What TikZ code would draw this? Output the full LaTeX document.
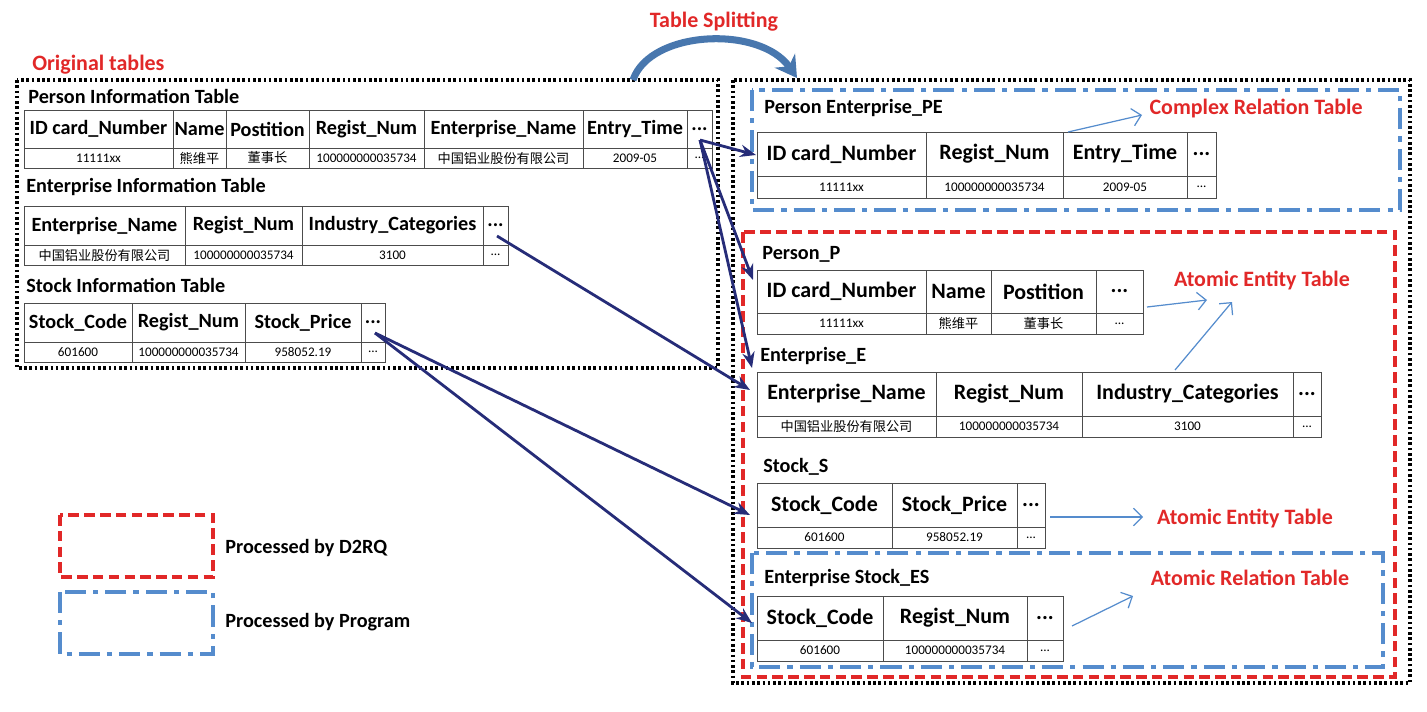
\documentclass[tikz,border=0pt]{standalone}
\usepackage{fontspec}
\setmainfont{Carlito}
\newfontfamily\cjk{Noto Sans CJK SC}
\usetikzlibrary{arrows.meta}
\definecolor{navy}{RGB}{38,44,120}
\definecolor{lblue}{RGB}{85,140,205}
\definecolor{myred}{RGB}{225,40,40}
\newcommand\dts{...}
\tikzset{
  cell/.style={draw=black!70, line width=0.5pt},
  hd/.style={font=\bfseries\fontsize{11.5}{12}\selectfont, inner sep=0pt},
  hdb/.style={font=\bfseries\fontsize{12.5}{13}\selectfont, inner sep=0pt},
  vl/.style={font=\fontsize{7.5}{8}\selectfont, inner sep=0pt},
  ttl/.style={font=\bfseries\fontsize{11.5}{12}\selectfont, anchor=west, inner sep=0pt},
  redlbl/.style={font=\bfseries\fontsize{12.5}{13}\selectfont, text=myred, inner sep=0pt},
  outer/.style={draw, line width=2pt, dash pattern=on 1.5pt off 1.5pt},
  d2rq/.style={draw=myred, line width=2pt, dash pattern=on 6pt off 3pt},
  prog/.style={draw=lblue, line width=2pt, dash pattern=on 12pt off 4pt on 3pt off 4pt},
  map/.style={draw=navy, line width=1.6pt, -{Stealth[length=9pt,width=7pt]}},
  note/.style={draw=lblue, line width=0.7pt, -{Straight Barb[length=5pt]}},
}
% #1 name, #2 top, #3 mid, #4 bottom, #5 header style, #6 cells x0/x1/head/value
\newcommand\mktable[6]{%
  \foreach \xa/\xb/\h/\v [count=\k] in {#6} {
    \draw[cell] (\xa,#2) rectangle (\xb,#4);
    \draw[cell] (\xa,#3) -- (\xb,#3);
    \node[#5] (#1h\k) at ({(\xa+\xb)/2},{(#2+#3)/2}) {\h};
    \node[vl] (#1v\k) at ({(\xa+\xb)/2},{(#3+#4)/2}) {\v};
  }}
\begin{document}
\begin{tikzpicture}[x=0.02cm, y=-0.02cm]
\useasboundingbox (0,0) rectangle (1427,711);

% outer boxes
\draw[outer] (17,80) rectangle (718,368);
\draw[outer] (733,80) rectangle (1410,683);
\draw[prog] (752,90) rectangle (1400,210);
\draw[d2rq] (743,232) rectangle (1395,677);
\draw[prog] (752,553) rectangle (1383,667);

\node[redlbl, anchor=west] (orig) at (32,65) {Original tables};
\node[redlbl] (split) at (714,22) {Table Splitting};
\coordinate (sa) at (633,80);
\coordinate (sb) at (797,78);
\draw[lblue!85!black, line width=4pt, -{Stealth[length=12pt,width=14pt]}]
  (sa) .. controls (650,30) and (760,25) .. (sb);

% original tables
\node[ttl] (pit) at (28,96) {Person Information Table};
\mktable{P}{110}{148}{168}{hd}{24/173/ID card\_Number/11111xx, 173/226/Name/{\cjk 熊维平}, 226/309/Postition/{\cjk 董事长}, 309/424/Regist\_Num/100000000035734, 424/583/Enterprise\_Name/{\cjk 中国铝业股份有限公司}, 583/687/Entry\_Time/2009-05, 687/712/\dts/\dts}
\node[ttl] (eit) at (26,187) {Enterprise Information Table};
\mktable{E}{206}{245}{265}{hd}{24/185/Enterprise\_Name/{\cjk 中国铝业股份有限公司}, 185/302/Regist\_Num/100000000035734, 302/483/Industry\_Categories/3100, 483/508/\dts/\dts}
\node[ttl] (sit) at (26,285) {Stock Information Table};
\mktable{S}{303}{342}{362}{hd}{24/132/Stock\_Code/601600, 132/245/Regist\_Num/100000000035734, 245/361/Stock\_Price/958052.19, 361/385/\dts/\dts}

% split tables
\node[ttl] (pet) at (764,108) {Person Enterprise\_PE};
\node[redlbl, anchor=east] (crt) at (1363,108) {Complex Relation Table};
\mktable{PE}{132}{176}{198}{hdb}{757/926/ID card\_Number/11111xx, 926/1063/Regist\_Num/100000000035734, 1063/1187/Entry\_Time/2009-05, 1187/1216/\dts/\dts}
\node[ttl] (ppt) at (762,254) {Person\_P};
\mktable{PP}{270}{313}{334}{hdb}{757/926/ID card\_Number/11111xx, 926/991/Name/{\cjk 熊维平}, 991/1096/Postition/{\cjk 董事长}, 1096/1143/\dts/\dts}
\node[redlbl] (aet1) at (1262,280) {Atomic Entity Table};
\node[ttl] (eet) at (760,356) {Enterprise\_E};
\mktable{EE}{372}{416}{437}{hdb}{757/936/Enterprise\_Name/{\cjk 中国铝业股份有限公司}, 936/1082/Regist\_Num/100000000035734, 1082/1293/Industry\_Categories/3100, 1293/1321/\dts/\dts}
\node[ttl] (sst) at (763,467) {Stock\_S};
\mktable{SS}{483}{527}{548}{hdb}{757/892/Stock\_Code/601600, 892/1017/Stock\_Price/958052.19, 1017/1045/\dts/\dts}
\node[redlbl] (aet2) at (1245,518) {Atomic Entity Table};
\node[ttl] (est) at (764,578) {Enterprise Stock\_ES};
\node[redlbl] (art) at (1250,578) {Atomic Relation Table};
\mktable{ES}{596}{640}{661}{hdb}{757/883/Stock\_Code/601600, 883/1027/Regist\_Num/100000000035734, 1027/1063/\dts/\dts}

% mapping arrows
\coordinate (p0) at (700,140);
\coordinate (e0) at (497,236);
\coordinate (s0) at (375,333);
\coordinate (t1) at (756,155);
\coordinate (t2) at (753,280);
\coordinate (t3) at (752,368);
\coordinate (t4) at (750,390);
\coordinate (t5) at (750,515);
\coordinate (t6) at (752,623);
\draw[map] (p0) -- (t1);
\draw[map] (p0) -- (t2);
\draw[map] (p0) -- (t3);
\draw[map] (e0) -- (t4);
\draw[map] (s0) -- (t5);
\draw[map] (s0) -- (t6);

% notes
\coordinate (m1) at (1068,132);
\coordinate (m2) at (1147,307);
\coordinate (m3) at (1175,370);
\coordinate (m4) at (1050,517);
\coordinate (m5) at (1072,626);
\coordinate (n1) at (1142,115);
\coordinate (n2) at (1207,300);
\coordinate (n3) at (1232,302);
\coordinate (n4) at (1143,517);
\coordinate (n5) at (1133,596);
\draw[note] (m1) -- (n1);
\draw[note] (m2) -- (n2);
\draw[note] (m3) -- (n3);
\draw[note] (m4) -- (n4);
\draw[note] (m5) -- (n5);

% legend
\draw[d2rq] (60,515) rectangle (213,577);
\node[ttl] (lg1) at (225,548) {Processed by D2RQ};
\draw[prog] (60,592) rectangle (213,654);
\node[ttl] (lg2) at (225,622) {Processed by Program};
\end{tikzpicture}
\end{document}
